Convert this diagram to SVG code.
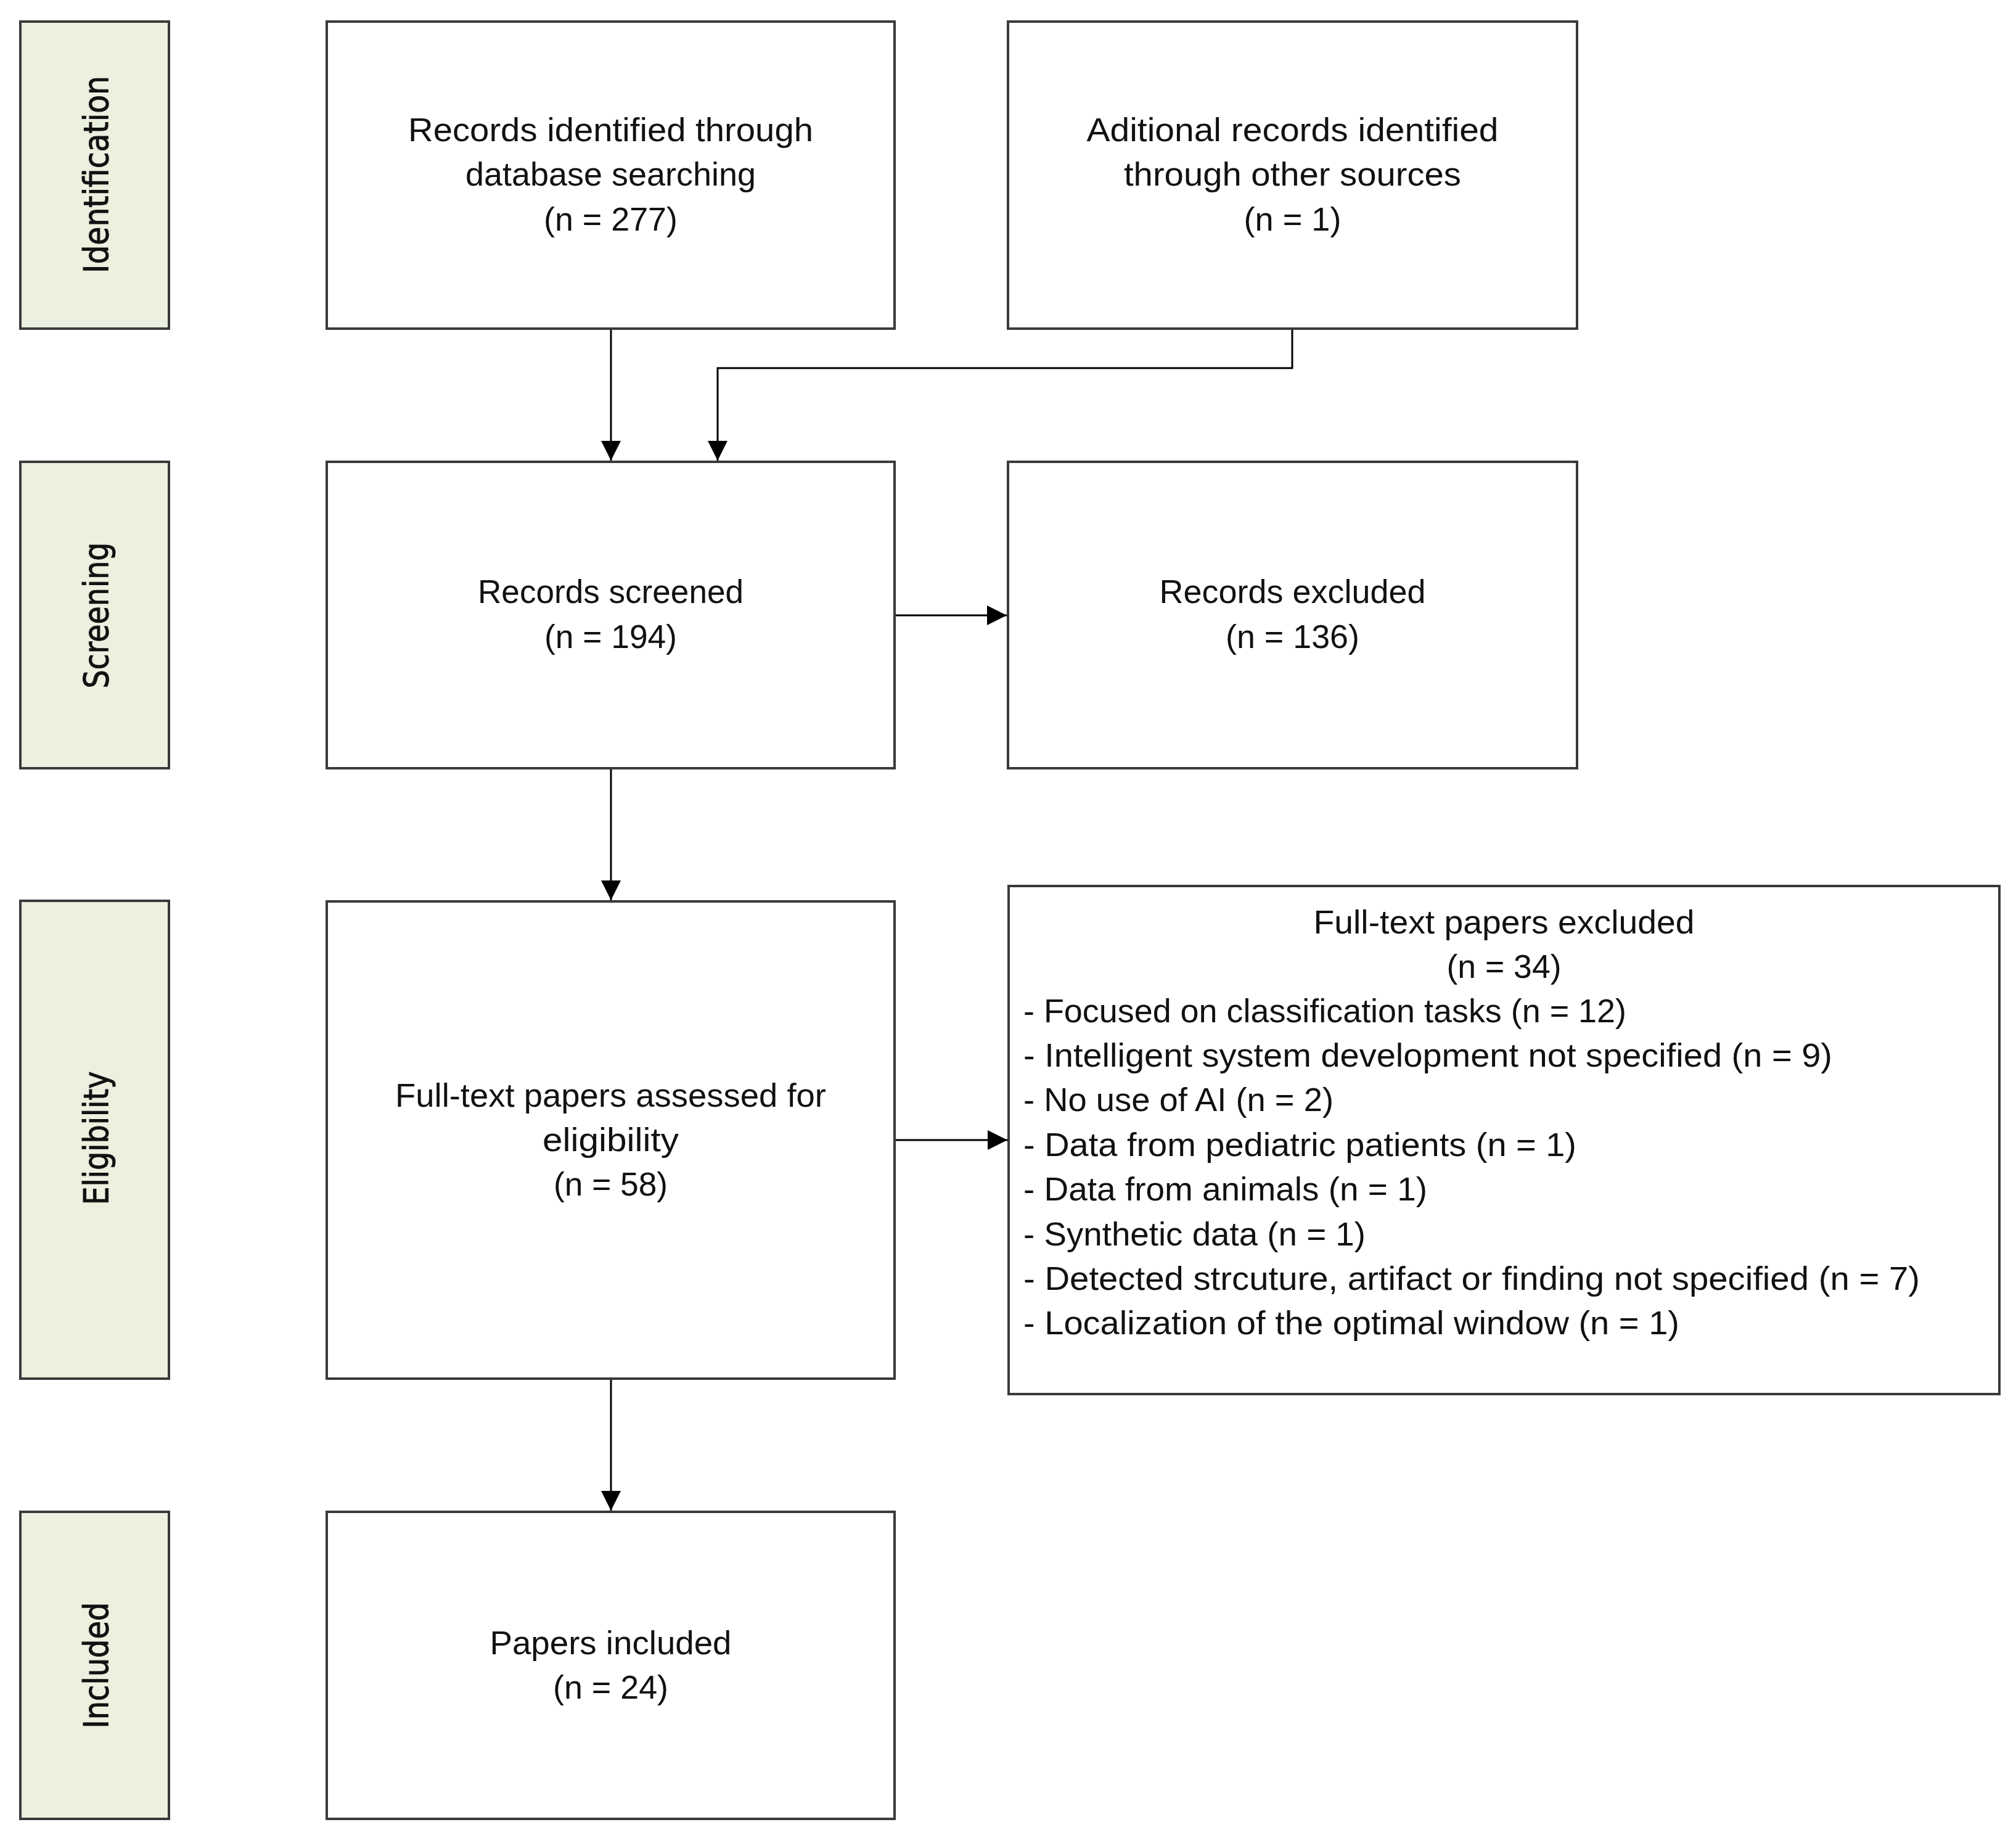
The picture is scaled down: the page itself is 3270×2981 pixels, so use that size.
<svg xmlns="http://www.w3.org/2000/svg" width="3270" height="2981" viewBox="0 0 3270 2981">
<style>
.box{fill:#ffffff;stroke:#3a3a3a;stroke-width:4}
.side{fill:#ebf0df;stroke:#3a3a3a;stroke-width:4}
.t{font-family:"Liberation Sans",Arial,sans-serif;font-size:54px;fill:#111;text-anchor:middle}
.l{font-family:"Liberation Sans",Arial,sans-serif;font-size:54px;fill:#111;text-anchor:start}
.s{font-family:"DejaVu Sans",Verdana,sans-serif;font-size:55px;fill:#111;stroke:#111;stroke-width:1;text-anchor:middle}
.c{fill:none;stroke:#000;stroke-width:3}
</style>
<defs>
<marker id="arr" markerUnits="userSpaceOnUse" markerWidth="32" markerHeight="32" refX="32" refY="16" orient="auto">
<path d="M0,0 L32,16 L0,32 z" fill="#000"/>
</marker>
</defs>
<rect width="3270" height="2981" fill="#ffffff"/>

<g id="label-identification">
<rect class="side" x="33" y="35" width="241" height="498"/>
<text class="s" transform="translate(175,283) rotate(-90)" textLength="320" lengthAdjust="spacingAndGlyphs">Identification</text>
</g>
<g id="label-screening">
<rect class="side" x="33" y="749" width="241" height="497"/>
<text class="s" transform="translate(175,998) rotate(-90)" textLength="237" lengthAdjust="spacingAndGlyphs">Screening</text>
</g>
<g id="label-eligibility">
<rect class="side" x="33" y="1461" width="241" height="775"/>
<text class="s" transform="translate(175,1846) rotate(-90)" textLength="217" lengthAdjust="spacingAndGlyphs">Eligibility</text>
</g>
<g id="label-included">
<rect class="side" x="33" y="2452" width="241" height="498"/>
<text class="s" transform="translate(175,2701) rotate(-90)" textLength="205" lengthAdjust="spacingAndGlyphs">Included</text>
</g>

<g id="node-database">
<rect class="box" x="530" y="35" width="921" height="498"/>
<text class="t" x="990.5" y="229" textLength="657" lengthAdjust="spacingAndGlyphs">Records identified through</text>
<text class="t" x="990.5" y="301" textLength="471" lengthAdjust="spacingAndGlyphs">database searching</text>
<text class="t" x="990.5" y="374" textLength="217" lengthAdjust="spacingAndGlyphs">(n = 277)</text>
</g>
<g id="node-other">
<rect class="box" x="1635" y="35" width="923" height="498"/>
<text class="t" x="2096.5" y="229" textLength="668" lengthAdjust="spacingAndGlyphs">Aditional records identified</text>
<text class="t" x="2096.5" y="301" textLength="547" lengthAdjust="spacingAndGlyphs">through other sources</text>
<text class="t" x="2096.5" y="374" textLength="158" lengthAdjust="spacingAndGlyphs">(n = 1)</text>
</g>
<g id="node-screened">
<rect class="box" x="530" y="749" width="921" height="497"/>
<text class="t" x="990.5" y="978" textLength="431" lengthAdjust="spacingAndGlyphs">Records screened</text>
<text class="t" x="990.5" y="1051" textLength="215" lengthAdjust="spacingAndGlyphs">(n = 194)</text>
</g>
<g id="node-excluded">
<rect class="box" x="1635" y="749" width="923" height="497"/>
<text class="t" x="2096.5" y="978" textLength="432" lengthAdjust="spacingAndGlyphs">Records excluded</text>
<text class="t" x="2096.5" y="1051" textLength="217" lengthAdjust="spacingAndGlyphs">(n = 136)</text>
</g>
<g id="node-fulltext">
<rect class="box" x="530" y="1462" width="921" height="774"/>
<text class="t" x="990.5" y="1795" textLength="699" lengthAdjust="spacingAndGlyphs">Full-text papers assessed for</text>
<text class="t" x="990.5" y="1867" textLength="221" lengthAdjust="spacingAndGlyphs">eligibility</text>
<text class="t" x="990.5" y="1939" textLength="185" lengthAdjust="spacingAndGlyphs">(n = 58)</text>
</g>
<g id="node-fulltext-excluded">
<rect class="box" x="1636" y="1437" width="1607" height="824"/>
<text class="t" x="2439.5" y="1514" textLength="618" lengthAdjust="spacingAndGlyphs">Full-text papers excluded</text>
<text class="t" x="2439.5" y="1586" textLength="186" lengthAdjust="spacingAndGlyphs">(n = 34)</text>
<text class="l" x="1660" y="1658" textLength="978" lengthAdjust="spacingAndGlyphs">- Focused on classification tasks (n = 12)</text>
<text class="l" x="1660" y="1730" textLength="1312" lengthAdjust="spacingAndGlyphs">- Intelligent system development not specified (n = 9)</text>
<text class="l" x="1660" y="1802" textLength="503" lengthAdjust="spacingAndGlyphs">- No use of AI (n = 2)</text>
<text class="l" x="1660" y="1875" textLength="897" lengthAdjust="spacingAndGlyphs">- Data from pediatric patients (n = 1)</text>
<text class="l" x="1660" y="1947" textLength="655" lengthAdjust="spacingAndGlyphs">- Data from animals (n = 1)</text>
<text class="l" x="1660" y="2020" textLength="555" lengthAdjust="spacingAndGlyphs">- Synthetic data (n = 1)</text>
<text class="l" x="1660" y="2092" textLength="1454" lengthAdjust="spacingAndGlyphs">- Detected strcuture, artifact or finding not specified (n = 7)</text>
<text class="l" x="1660" y="2164" textLength="1064" lengthAdjust="spacingAndGlyphs">- Localization of the optimal window (n = 1)</text>
</g>
<g id="node-included">
<rect class="box" x="530" y="2452" width="921" height="498"/>
<text class="t" x="990.5" y="2683" textLength="392" lengthAdjust="spacingAndGlyphs">Papers included</text>
<text class="t" x="990.5" y="2755" textLength="187" lengthAdjust="spacingAndGlyphs">(n = 24)</text>
</g>

<g id="connectors">
<path class="c" d="M991,535 V747" marker-end="url(#arr)"/>
<path class="c" d="M2096,535 V597 H1164 V747" marker-end="url(#arr)"/>
<path class="c" d="M1453,998 H1633" marker-end="url(#arr)"/>
<path class="c" d="M991,1248 V1460" marker-end="url(#arr)"/>
<path class="c" d="M1453,1849 H1634" marker-end="url(#arr)"/>
<path class="c" d="M991,2238 V2450" marker-end="url(#arr)"/>
</g>
</svg>
